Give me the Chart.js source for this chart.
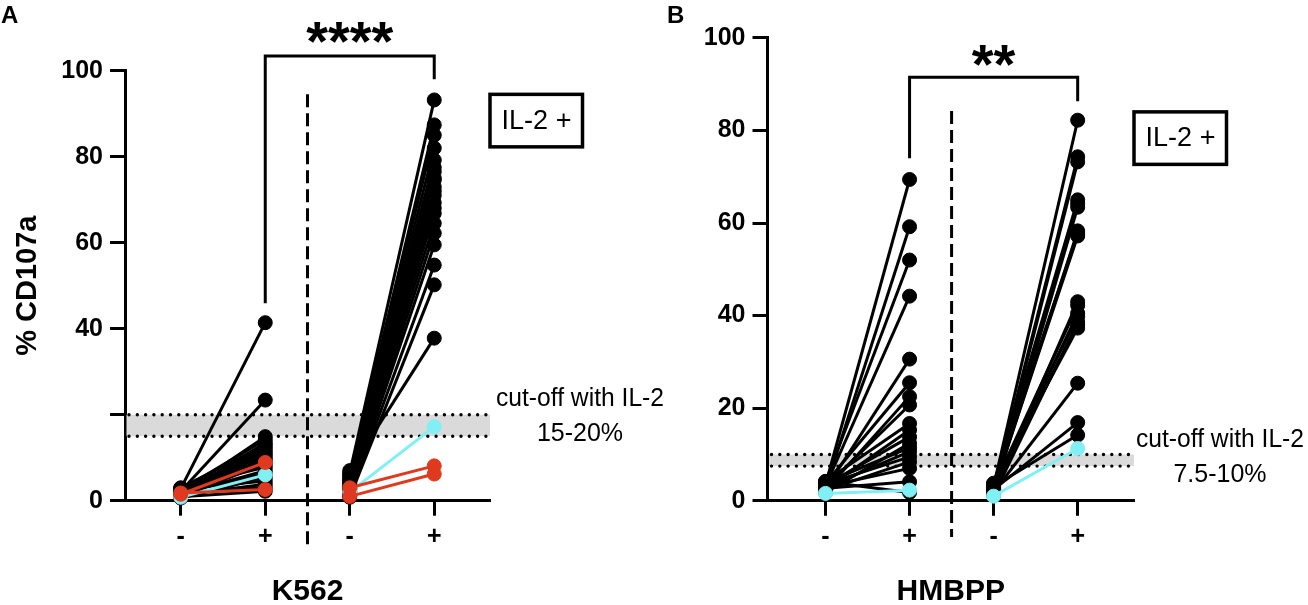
<!DOCTYPE html>
<html>
<head>
<meta charset="utf-8">
<script src="https://cdn.jsdelivr.net/npm/chart.js@4.4.1/dist/chart.umd.min.js"></script>
<style>
  html, body { margin: 0; padding: 0; background: #fff; }
  body { width: 1308px; height: 605px; position: relative; overflow: hidden; }
  canvas { position: absolute; top: 0; }
  #chartA { left: 0; width: 680px; height: 605px; }
  #chartB { left: 654px; width: 654px; height: 605px; }
</style>
</head>
<body>
<canvas id="chartA" width="680" height="605"></canvas>
<canvas id="chartB" width="654" height="605"></canvas>
<script>
// x categories: target - / + , without IL-2 (left pair) and with IL-2 (right pair)
const xLabels = ["-", "+", "-", "+"];
const yTicks = [0, 20, 40, 60, 80, 100];

// Panel A - K562 (one entry per donor)
const k562Group = [
  "main", "main", "main", "main", "main", "main", "main", "main", "main", "main", "main",
  "main", "main", "main", "main", "main", "main", "main", "main", "main", "main",
  "red", "red", "cyan"
];
const k562NoIl2Minus = [2.8, 2.2, 1.6, 2.5, 1.2, 3.0, 2.0, 1.4, 2.6, 1.8, 0.8, 2.4, 1.0, 2.9, 1.5, 2.1, 0.6, 2.7, 1.3, 1.9, 0.9, 1.5, 1.8, 0.8];
const k562NoIl2Plus = [41.4, 23.4, 14.9, 14.2, 13.5, 13.0, 12.4, 11.8, 11.2, 10.6, 10.0, 9.4, 8.6, 7.8, 7.0, 6.2, 5.4, 4.6, 3.8, 3.0, 2.2, 8.9, 2.6, 6.0];
const k562Il2Minus = [6.5, 5.8, 5.2, 4.6, 4.0, 3.5, 3.0, 2.6, 2.2, 1.8, 1.4, 6.0, 5.0, 4.3, 3.2, 2.8, 2.0, 1.6, 1.2, 0.8, 7.0, 3.0, 1.0, 2.0];
const k562Il2Plus = [93.2, 87.4, 85.0, 82.0, 79.2, 77.5, 76.5, 75.0, 74.6, 73.0, 72.0, 71.0, 69.3, 68.0, 66.8, 64.5, 62.2, 59.5, 54.8, 50.2, 37.8, 8.1, 6.2, 17.2];
const k562YLabels = ["0", "", "40", "60", "80", "100"];
const k562Cutoff = [15, 20];

// Panel B - HMBPP (one entry per donor)
const hmbppGroup = [
  "main", "main", "main", "main", "main", "main", "main", "main", "main", "main",
  "main", "main", "main", "main", "main", "main", "main", "main", "main", "cyan"
];
const hmbppNoIl2Minus = [3.5, 2.8, 4.0, 3.2, 2.5, 3.8, 2.2, 3.0, 4.2, 2.6, 3.4, 1.8, 3.9, 2.9, 3.6, 2.3, 3.1, 2.7, 4.1, 1.6];
const hmbppNoIl2Plus = [69.4, 59.2, 52.0, 44.2, 30.6, 25.5, 22.5, 20.7, 16.7, 15.3, 13.8, 12.4, 11.5, 10.6, 9.5, 8.4, 7.0, 4.1, 1.8, 2.3];
const hmbppIl2Minus = [3.2, 2.5, 1.8, 3.6, 2.9, 1.4, 2.2, 3.8, 2.7, 1.6, 3.0, 2.0, 3.4, 1.2, 2.6, 3.5, 1.9, 2.4, 3.1, 1.0];
const hmbppIl2Plus = [82.2, 74.3, 73.2, 65.0, 64.2, 63.4, 58.3, 57.8, 57.2, 43.0, 42.2, 40.5, 39.8, 38.6, 38.0, 37.3, 25.4, 16.9, 14.2, 11.3];
const hmbppYLabels = ["0", "20", "40", "60", "80", "100"];
const hmbppCutoff = [7.5, 10];

const FONT = "'Liberation Sans', Arial, sans-serif";
Chart.defaults.font.family = FONT;
Chart.defaults.color = "#000";

const groupStyle = {
  main: { color: "#000000", order: 2 },
  cyan: { color: "#80f0f4", order: 1 },
  red: { color: "#df3a1f", order: 0 }
};

function pairSets(minus, plus, groups, x0) {
  return minus.map((m, i) => {
    const st = groupStyle[groups[i]];
    return {
      data: [{ x: x0, y: m }, { x: x0 + 1, y: plus[i] }],
      borderColor: st.color,
      backgroundColor: st.color,
      pointBackgroundColor: st.color,
      pointBorderColor: st.color,
      borderWidth: 3,
      pointRadius: 7,
      pointBorderWidth: 1,
      order: st.order,
      clip: false
    };
  });
}

// bands, divider, bracket, stars, box, texts
const decor = {
  id: "decor",
  beforeDatasetsDraw(chart, args, o) {
    const { ctx, chartArea: a, scales: { y } } = chart;
    const yLo = y.getPixelForValue(o.band[0]);
    const yHi = y.getPixelForValue(o.band[1]);
    ctx.save();
    ctx.fillStyle = "#dadada";
    ctx.fillRect(a.left + 1.5, yHi, a.right - a.left - 1.5, yLo - yHi);
    ctx.strokeStyle = "#000";
    ctx.lineWidth = 3.4;
    ctx.lineCap = "round";
    ctx.setLineDash([0, 8.3]);
    [yLo, yHi].forEach(py => {
      ctx.beginPath();
      ctx.moveTo(a.left + 4, py);
      ctx.lineTo(a.right, py);
      ctx.stroke();
    });
    ctx.restore();
  },
  afterDraw(chart, args, o) {
    const { ctx, chartArea: a, scales: { x, y } } = chart;
    ctx.save();
    ctx.strokeStyle = "#000";
    ctx.fillStyle = "#000";

    // dashed divider
    ctx.lineWidth = 3;
    ctx.setLineDash([13, 6]);
    const dx = x.getPixelForValue(1.5);
    ctx.beginPath();
    ctx.moveTo(dx, y.getPixelForValue(o.divider[0]));
    ctx.lineTo(dx, y.getPixelForValue(o.divider[1]));
    ctx.stroke();
    ctx.setLineDash([]);

    // significance bracket
    const b0 = x.getPixelForValue(1), b1 = x.getPixelForValue(3);
    const by = y.getPixelForValue(o.bracket[0]);
    ctx.lineWidth = 3;
    ctx.lineJoin = "miter";
    ctx.beginPath();
    ctx.moveTo(b0, y.getPixelForValue(o.bracket[1]));
    ctx.lineTo(b0, by);
    ctx.lineTo(b1, by);
    ctx.lineTo(b1, y.getPixelForValue(o.bracket[2]));
    ctx.stroke();

    ctx.font = "bold 56px " + FONT;
    ctx.textAlign = "center";
    ctx.textBaseline = "alphabetic";
    ctx.fillText(o.stars, x.getPixelForValue(2), y.getPixelForValue(o.starsY));

    // IL-2 box
    const bt = y.getPixelForValue(o.boxTop);
    ctx.lineWidth = 3.5;
    ctx.strokeRect(a.right, bt, 92.5, 52.5);
    ctx.font = "27px " + FONT;
    ctx.textBaseline = "middle";
    ctx.fillText("IL-2 +", a.right + 46.5, bt + 27);

    // cut-off text
    ctx.font = "25px " + FONT;
    ctx.fillText(o.cutText[0], a.right + o.cutDx, y.getPixelForValue(o.cutY[0]), 168);
    ctx.fillText(o.cutText[1], a.right + o.cutDx, y.getPixelForValue(o.cutY[1]));

    // panel letter
    ctx.font = "bold 24px " + FONT;
    ctx.textAlign = "left";
    ctx.textBaseline = "alphabetic";
    ctx.fillText(o.letter[0], o.letter[1], 23);
    ctx.restore();
  }
};

function makeOptions(p) {
  return {
    responsive: false,
    animation: false,
    events: [],
    devicePixelRatio: 1,
    layout: { padding: { top: p.top, right: p.right, bottom: 0, left: 0 } },
    plugins: { legend: { display: false }, tooltip: { enabled: false }, decor: p.decor },
    scales: {
      x: {
        type: "linear",
        min: p.xMin,
        max: p.xMax,
        afterBuildTicks: s => { s.ticks = [0, 1, 2, 3].map(v => ({ value: v })); },
        afterFit: s => { s.height = p.xHeight; },
        ticks: {
          callback: (v, i) => xLabels[i],
          font: { size: 25, weight: "bold" },
          color: "#000",
          padding: 6,
          autoSkip: false,
          maxRotation: 0
        },
        grid: { drawOnChartArea: false, tickLength: 15, tickWidth: 3, tickColor: "#000", color: "#000" },
        border: { color: "#000", width: 3 },
        title: {
          display: true,
          text: p.xTitle,
          font: { size: 30, weight: "bold", lineHeight: 0.9 },
          color: "#000",
          padding: 0
        }
      },
      y: {
        min: 0,
        max: 100,
        afterBuildTicks: s => { s.ticks = yTicks.map(v => ({ value: v })); },
        afterFit: s => { s.width = p.yWidth; },
        ticks: {
          callback: (v, i) => p.yLabels[i],
          font: { size: 25, weight: "bold" },
          color: "#000",
          padding: 7
        },
        grid: { drawOnChartArea: false, tickLength: 15, tickWidth: 3, tickColor: "#000", color: "#000" },
        border: { color: "#000", width: 3 },
        title: {
          display: !!p.yTitle,
          text: p.yTitle || "",
          font: { size: 29, weight: "bold" },
          color: "#000",
          padding: { top: 11, bottom: 0 }
        }
      }
    }
  };
}

new Chart(document.getElementById("chartA"), {
  type: "line",
  data: {
    datasets: [
      ...pairSets(k562NoIl2Minus, k562NoIl2Plus, k562Group, 0),
      ...pairSets(k562Il2Minus, k562Il2Plus, k562Group, 2)
    ]
  },
  options: makeOptions({
    top: 70.7, right: 190, xMin: -0.66, xMax: 3.66, xHeight: 104.3, yWidth: 125,
    xTitle: "K562", yTitle: "% CD107a", yLabels: k562YLabels,
    decor: {
      band: k562Cutoff, divider: [94.5, -10.7], bracket: [103.4, 45.9, 98],
      stars: "****", starsY: 102.5, boxTop: 94.5,
      cutText: ["cut-off with IL-2", "15-20%"], cutDx: 90, cutY: [23.6, 15.4],
      letter: ["A", 1]
    }
  }),
  plugins: [decor]
});

new Chart(document.getElementById("chartB"), {
  type: "line",
  data: {
    datasets: [
      ...pairSets(hmbppNoIl2Minus, hmbppNoIl2Plus, hmbppGroup, 0),
      ...pairSets(hmbppIl2Minus, hmbppIl2Plus, hmbppGroup, 2)
    ]
  },
  options: makeOptions({
    top: 37.8, right: 174, xMin: -0.69, xMax: 3.67, xHeight: 104.2, yWidth: 113.5,
    xTitle: "HMBPP", yTitle: "", yLabels: hmbppYLabels,
    decor: {
      band: hmbppCutoff, divider: [84.2, -7.8], bracket: [91.5, 74.0, 86.3],
      stars: "**", starsY: 90.3, boxTop: 84.0,
      cutText: ["cut-off with IL-2", "7.5-10%"], cutDx: 86, cutY: [13.1, 5.6],
      letter: ["B", 13]
    }
  }),
  plugins: [decor]
});
</script>
</body>
</html>
